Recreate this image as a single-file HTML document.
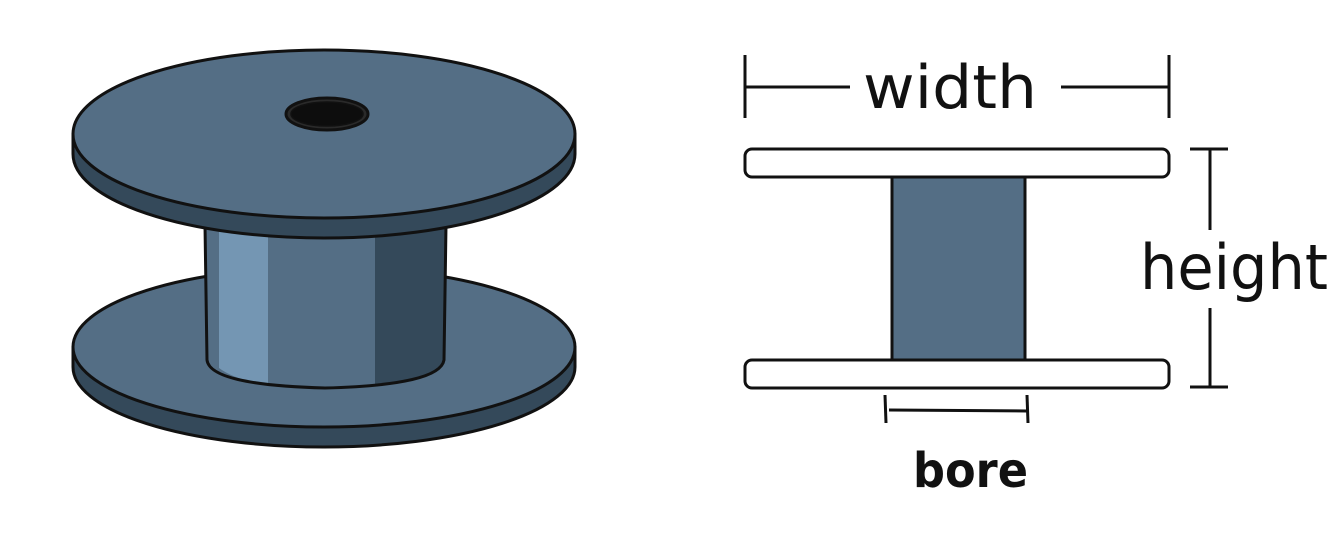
<!DOCTYPE html>
<html><head><meta charset="utf-8"><style>
html,body{margin:0;padding:0;background:#fff;width:1328px;height:536px;overflow:hidden}
svg{display:block}
text{font-family:"DejaVu Sans","Liberation Sans",sans-serif;fill:#111}
</style></head><body>
<svg width="1328" height="536" viewBox="0 0 1328 536" xmlns="http://www.w3.org/2000/svg">
<g stroke="#111" stroke-width="3" stroke-linejoin="round">
  <path d="M73,347 L73,367 A251,80 0 0 0 575,367 L575,347 Z" fill="#34495a"/>
  <ellipse cx="324" cy="347" rx="251" ry="80" fill="#546e85"/>
  <path d="M205,225 L207,360 Q210,385 325,388 Q440,385 444,360 L446,225 Z" fill="#546e85" stroke="none"/>
  <path d="M219,225 L219,368 Q235,380 268,385 L268,225 Z" fill="#7496b3" stroke="none"/>
  <path d="M375,225 L375,386 Q430,382 444,362 L446,225 Z" fill="#34495a" stroke="none"/>
  <path d="M205,225 L207,360 Q210,385 325,388 Q440,385 444,360 L446,225" fill="none"/>
  <path d="M73,134 L73,154 A251,84 0 0 0 575,154 L575,134 Z" fill="#34495a"/>
  <ellipse cx="324" cy="134" rx="251" ry="84" fill="#546e85"/>
  <ellipse cx="327" cy="114" rx="41" ry="16" fill="#2a2a2a"/>
  <ellipse cx="327" cy="114" rx="36" ry="12" fill="#0d0d0d" stroke-width="1.5"/>
</g>
<g stroke="#111" stroke-width="3" fill="none">
  <line x1="745" y1="55" x2="745" y2="118"/>
  <line x1="745" y1="87" x2="850" y2="87"/>
  <line x1="1061" y1="87" x2="1169" y2="87"/>
  <line x1="1169" y1="55" x2="1169" y2="118"/>
  <rect x="745" y="149" width="424" height="28" rx="7" fill="#fff"/>
  <rect x="892" y="177" width="133" height="183" fill="#546e85"/>
  <rect x="745" y="360" width="424" height="28" rx="7" fill="#fff"/>
  <line x1="1190" y1="149" x2="1228" y2="149"/>
  <line x1="1210" y1="149" x2="1210" y2="230"/>
  <line x1="1210" y1="308" x2="1210" y2="387"/>
  <line x1="1190" y1="387" x2="1228" y2="387"/>
  <line x1="885" y1="395" x2="886" y2="423"/>
  <line x1="889" y1="410" x2="1027" y2="411"/>
  <line x1="1027" y1="395" x2="1028" y2="423"/>
</g>
<text x="863" y="108" font-size="60" textLength="174" lengthAdjust="spacingAndGlyphs">width</text>
<text x="1140" y="289" font-size="62" textLength="188" lengthAdjust="spacingAndGlyphs">height</text>
<text x="913" y="487" font-size="48" font-weight="bold" textLength="115" lengthAdjust="spacingAndGlyphs">bore</text>
</svg>
</body></html>
